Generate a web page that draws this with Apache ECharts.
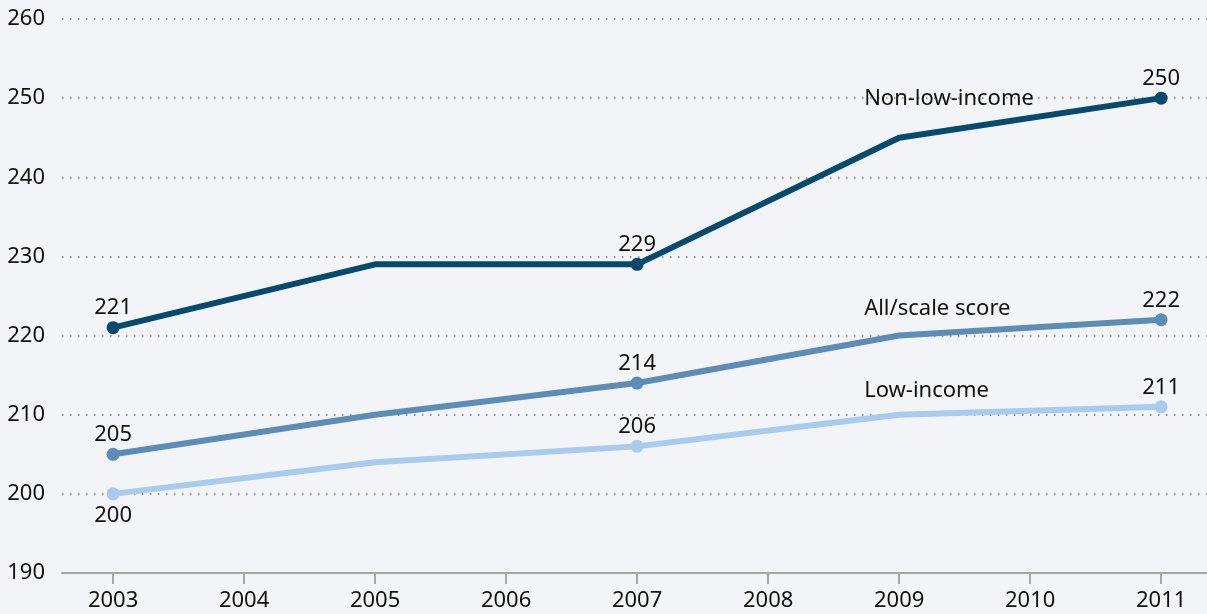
<!DOCTYPE html>
<html>
<head>
<meta charset="utf-8">
<script src="https://cdn.jsdelivr.net/npm/echarts@6/dist/echarts.min.js"></script>
<style>
  html, body { margin: 0; padding: 0; background: #f3f4f7; }
  #chart { width: 1207px; height: 614px; }
</style>
</head>
<body>
<div id="chart"></div>
<script>
const years = [2003, 2005, 2007, 2009, 2011];
const tickYears = [2003, 2004, 2005, 2006, 2007, 2008, 2009, 2010, 2011];
const nonLowIncome = [221, 229, 229, 245, 250];
const allScale = [205, 210, 214, 220, 222];
const lowIncome = [200, 204, 206, 210, 211];
// points that get a dot and a value label
const marked = [true, false, true, false, true];
const seriesNames = ['Non-low-income', 'All/scale score', 'Low-income'];
const seriesColors = ['#064a6e', '#5b8db6', '#a8cbee'];

const FONT = 'Noto Sans';
const nameLabelIdx = 3;
const nameOffsetY = [-39, -27, -24];

function buildData(values, s) {
  return values.map(function (v, i) {
    const item = { value: [years[i], v] };
    if (marked[i]) {
      item.symbolSize = 13;
      const below = (s === 2 && i === 0);
      item.label = {
        show: true,
        formatter: String(v),
        position: below ? 'bottom' : 'top',
        distance: below ? 4 : 2
      };
    } else {
      item.symbolSize = 0;
    }
    if (i === nameLabelIdx) {
      item.label = {
        show: true,
        formatter: seriesNames[s],
        position: 'top',
        align: 'left',
        verticalAlign: 'middle',
        distance: 0,
        offset: [-35, nameOffsetY[s]]
      };
    }
    return item;
  });
}

const chart = echarts.init(document.getElementById('chart'));
chart.setOption({
  backgroundColor: '#f3f4f7',
  animation: false,
  textStyle: { fontFamily: FONT },
  grid: { left: 62, right: 0, top: 19, bottom: 41 },
  xAxis: {
    type: 'value',
    min: 2002.61,
    max: 2011.35,
    splitLine: { show: false },
    axisLine: { show: true, lineStyle: { color: '#a6a6a6', width: 2 } },
    axisTick: {
      show: true,
      customValues: tickYears,
      length: 11,
      lineStyle: { color: '#a6a6a6', width: 2 }
    },
    axisLabel: {
      customValues: tickYears,
      formatter: function (v) { return String(v); },
      color: '#111',
      fontSize: 22,
      fontFamily: FONT,
      margin: 17
    }
  },
  yAxis: {
    type: 'value',
    min: 190,
    max: 260,
    interval: 10,
    axisLine: { show: false },
    axisTick: { show: false },
    axisLabel: { color: '#111', fontSize: 22, fontFamily: FONT, margin: 17 },
    splitLine: {
      show: true,
      lineStyle: { color: '#9c9c9c', width: 2, type: [1.5, 6.5] }
    }
  },
  series: [nonLowIncome, allScale, lowIncome].map(function (vals, s) {
    return {
      name: seriesNames[s],
      type: 'line',
      data: buildData(vals, s),
      symbol: 'circle',
      color: seriesColors[s],
      lineStyle: { width: 6, color: seriesColors[s] },
      itemStyle: { color: seriesColors[s] },
      label: { color: '#111', fontSize: 22, fontFamily: FONT },
      z: 3 - s
    };
  })
});
</script>
</body>
</html>
